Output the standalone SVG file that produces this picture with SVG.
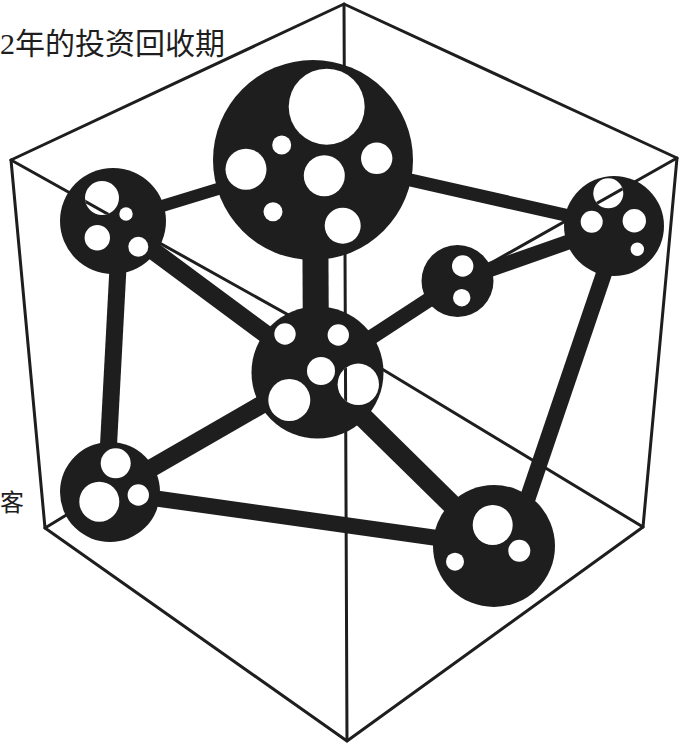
<svg xmlns="http://www.w3.org/2000/svg" xmlns:xlink="http://www.w3.org/1999/xlink" width="680" height="745" viewBox="0 0 680 745">
<style>
.edge{stroke:#1e1e1e;stroke-width:3;fill:none;stroke-linecap:round;stroke-linejoin:round}
.bar{stroke:#1e1e1e;fill:none;stroke-linecap:butt}
.disk{fill:#1e1e1e}
.hole{fill:#ffffff}
.lbl{font-family:"Liberation Serif","Noto Sans CJK SC",serif;font-size:30px;fill:#1e1e1e}
</style>
<defs>
<g id="cube">
<polyline class="edge" points="11,160 344,4 677,158 643,527 347,741 45,528 11,160"/>
<line class="edge" x1="344" y1="4" x2="347" y2="741"/>
<line class="edge" x1="11" y1="160" x2="344" y2="346"/>
<line class="edge" x1="677" y1="158" x2="344" y2="346"/>
<line class="edge" x1="45" y1="528" x2="344" y2="346"/>
<line class="edge" x1="643" y1="527" x2="344" y2="346"/>
</g>
<clipPath id="holeclip">
<circle cx="102" cy="198" r="17"/>
<circle cx="358.3" cy="384.3" r="20.7"/>
<circle cx="608.3" cy="193.3" r="15"/>
</clipPath>
</defs>
<rect width="680" height="745" fill="#ffffff"/>
<use xlink:href="#cube"/>
<text class="lbl" x="0" y="54">2年的投资回收期</text>
<text class="lbl" x="0" y="511" style="font-size:24px">客</text>
<g id="connectors">
<line class="bar" stroke-width="12" x1="113" y1="221" x2="313" y2="160"/>
<line class="bar" stroke-width="13" x1="313" y1="158" x2="614" y2="226"/>
<line class="bar" stroke-width="26" x1="315" y1="160" x2="316" y2="372"/>
<line class="bar" stroke-width="18" x1="113" y1="221" x2="317.5" y2="372.5"/>
<line class="bar" stroke-width="17" x1="120" y1="230" x2="106" y2="492"/>
<line class="bar" stroke-width="18" x1="110" y1="492" x2="317.5" y2="372.5"/>
<line class="bar" stroke-width="16" x1="110" y1="492" x2="494" y2="546"/>
<line class="bar" stroke-width="20" x1="317.5" y1="372.5" x2="494" y2="546"/>
<line class="bar" stroke-width="15" x1="317.5" y1="372.5" x2="457.5" y2="281"/>
<line class="bar" stroke-width="15" x1="457.5" y1="281" x2="614" y2="226"/>
<line class="bar" stroke-width="16" x1="612" y1="250" x2="522" y2="515"/>
</g>
<g id="node-top">
<circle class="disk" cx="313" cy="160" r="100"/>
<circle class="hole" cx="326.7" cy="106.7" r="38"/>
<circle class="hole" cx="281.7" cy="145" r="9.5"/>
<circle class="hole" cx="246" cy="169.3" r="20.5"/>
<circle class="hole" cx="324.3" cy="175.7" r="20.5"/>
<circle class="hole" cx="376.7" cy="158.3" r="15.7"/>
<circle class="hole" cx="273" cy="211.7" r="9.5"/>
<circle class="hole" cx="342.7" cy="225.7" r="18"/>
</g>
<g id="node-topleft">
<circle class="disk" cx="113" cy="221" r="53"/>
<circle class="hole" cx="102" cy="198" r="17"/>
<circle class="hole" cx="126" cy="214" r="6.7"/>
<circle class="hole" cx="97.3" cy="237.7" r="12.7"/>
<circle class="hole" cx="138.3" cy="246.7" r="10"/>
</g>
<g id="node-center">
<circle class="disk" cx="317.5" cy="372.5" r="66"/>
<circle class="hole" cx="285" cy="334" r="10.7"/>
<circle class="hole" cx="338.3" cy="335" r="10.7"/>
<circle class="hole" cx="321" cy="371" r="14"/>
<circle class="hole" cx="358.3" cy="384.3" r="20.7"/>
<circle class="hole" cx="289.3" cy="400" r="21"/>
</g>
<g id="node-right">
<circle class="disk" cx="614" cy="226" r="50"/>
<circle class="hole" cx="608.3" cy="193.3" r="15"/>
<circle class="hole" cx="591.7" cy="221.7" r="11"/>
<circle class="hole" cx="634.3" cy="220.7" r="11.7"/>
<circle class="hole" cx="637.3" cy="249.3" r="6.7"/>
</g>
<g id="node-mid">
<circle class="disk" cx="457.5" cy="281" r="36"/>
<circle class="hole" cx="462.7" cy="266" r="10.7"/>
<circle class="hole" cx="461.7" cy="297.7" r="8.7"/>
</g>
<g id="node-bottomleft">
<circle class="disk" cx="110" cy="492" r="50"/>
<circle class="hole" cx="115.7" cy="463.3" r="15"/>
<circle class="hole" cx="99.3" cy="501.7" r="20"/>
<circle class="hole" cx="138.3" cy="495" r="10.7"/>
</g>
<g id="node-bottomright">
<circle class="disk" cx="494" cy="546" r="61"/>
<circle class="hole" cx="492.7" cy="525" r="20"/>
<circle class="hole" cx="519.3" cy="550.7" r="11"/>
<circle class="hole" cx="455" cy="561.7" r="9"/>
</g>
<use xlink:href="#cube" clip-path="url(#holeclip)"/>
</svg>
